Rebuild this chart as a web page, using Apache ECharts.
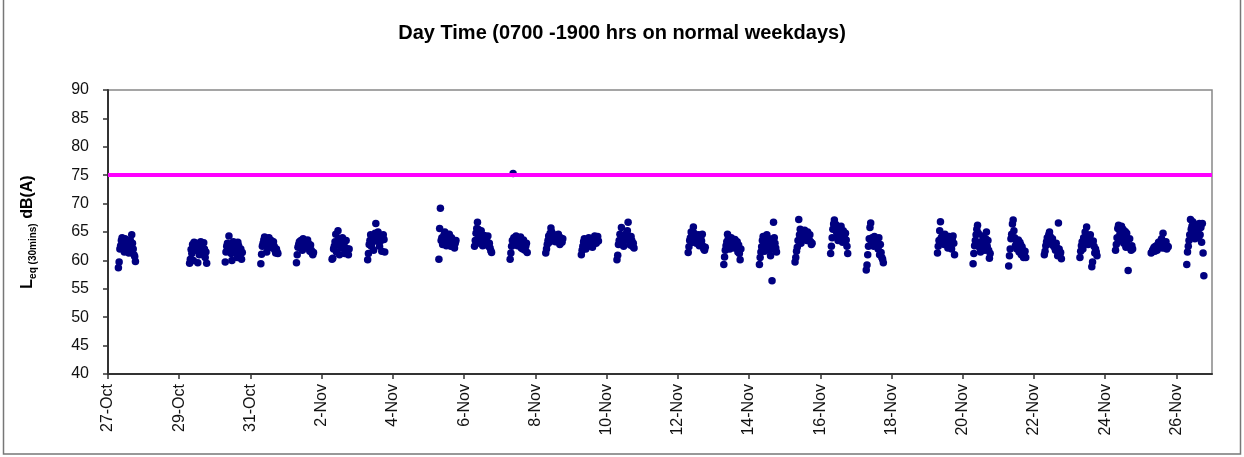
<!DOCTYPE html>
<html>
<head>
<meta charset="utf-8">
<script src="https://cdn.jsdelivr.net/npm/echarts@6/dist/echarts.min.js"></script>
<style>
html,body{margin:0;padding:0;background:#fff;}
#chart{width:1244px;height:457px;}
</style>
</head>
<body>
<div id="chart"></div>
<script>
// ---- data ----
const chartTitle = 'Day Time (0700 -1900 hrs on normal weekdays)';
const startDate = '2007-10-27';
const endDate = '2007-11-27';
const monthNames = ['Jan','Feb','Mar','Apr','May','Jun','Jul','Aug','Sep','Oct','Nov','Dec'];
const yTicks = {min: 40, max: 90, step: 5};
const limitLevel = 75;

// half-hour reading start times (0700 - 1900)
const slotTimes = ['07:00','07:30','08:00','08:30','09:00','09:30','10:00','10:30','11:00','11:30','12:00','12:30',
                   '13:00','13:30','14:00','14:30','15:00','15:30','16:00','16:30','17:00','17:30','18:00','18:30'];

// Leq (30 mins) dB(A) for each measured day
const oct27 = [58.7,59.7,62.0,62.6,63.5,64.0,63.2,62.4,61.5,63.8,62.8,62.2,63.4,62.6,61.3,63.0,63.6,62.5,64.5,63.0,62.0,61.0,60.7,59.8];
const oct29 = [59.5,60.2,61.9,61.2,62.8,60.0,63.2,62.5,61.8,63.0,62.2,59.6,62.4,61.0,61.5,63.3,62.8,62.0,61.0,63.1,62.0,60.5,61.5,59.5];
const oct30 = [59.7,61.5,62.5,63.0,61.8,64.3,62.8,62.0,61.2,60.0,62.5,63.3,62.0,61.6,61.5,62.2,60.5,63.2,62.6,61.8,61.0,62.0,60.2,61.4];
const oct31 = [59.4,61.1,62.5,63.0,63.6,64.1,63.8,62.6,61.5,63.2,63.9,64.0,62.4,63.0,63.5,62.8,62.2,63.3,62.5,61.8,61.3,62.0,61.5,61.2];
const nov01 = [59.6,61.0,62.3,62.8,63.3,62.6,63.5,62.0,61.8,63.8,63.2,62.5,63.0,62.4,62.9,63.6,63.0,62.2,61.6,62.7,61.8,61.3,61.0,61.4];
const nov02 = [60.2,60.4,62.0,62.5,63.3,64.6,61.5,62.8,65.2,63.8,61.0,62.5,63.0,62.2,64.0,63.3,62.7,61.2,62.2,63.5,61.5,62.0,61.0,62.0];
const nov03 = [60.1,61.2,62.8,63.5,64.5,62.5,63.2,64.0,61.8,63.5,64.8,66.5,63.4,64.3,65.0,63.8,62.5,64.2,63.5,61.6,64.0,64.5,63.7,61.5];
const nov05 = [60.2,65.6,69.2,63.5,64.0,62.8,63.3,64.5,65.0,63.2,62.6,63.8,63.1,64.2,64.6,63.0,62.5,64.0,63.5,62.8,63.3,62.2,63.0,63.5];
const nov06 = [62.5,63.5,64.8,65.6,66.7,65.5,64.2,63.0,64.6,65.2,63.8,62.6,63.4,64.4,64.0,63.5,62.8,63.3,64.3,62.5,63.0,62.2,61.7,61.4];
const nov07 = [60.2,61.3,62.5,63.5,75.3,64.0,62.8,63.2,64.3,63.8,62.6,63.5,62.9,63.3,64.1,62.2,63.0,62.0,63.6,62.8,61.8,62.5,63.0,61.4];
const nov08 = [61.3,62.0,62.8,63.5,64.3,63.2,64.8,65.7,65.0,64.2,63.6,64.5,64.1,63.3,63.8,64.0,63.3,64.6,63.5,62.8,64.0,63.6,63.2,63.8];
const nov09 = [61.0,61.8,62.5,63.3,63.8,62.6,62.0,63.5,62.8,63.2,64.0,63.0,62.5,63.4,63.6,62.3,63.1,63.8,64.3,63.5,63.0,63.8,64.2,63.4];
const nov10 = [60.1,60.9,62.8,63.5,64.6,63.2,65.8,63.0,64.0,62.5,63.8,64.5,63.6,64.8,65.2,66.7,64.0,63.3,62.7,64.2,63.5,62.5,63.0,62.2];
const nov12 = [61.4,62.4,63.5,64.0,65.0,64.3,63.2,65.9,64.8,63.6,64.2,63.0,63.7,64.4,64.5,62.6,63.8,64.1,63.4,64.6,62.5,62.0,61.8,62.3];
const nov13 = [59.3,60.6,61.8,62.6,63.3,64.6,63.8,62.9,62.0,63.0,64.0,63.5,62.6,63.1,62.2,63.7,62.8,62.5,63.3,61.5,62.7,61.2,60.1,62.0];
const nov14 = [59.3,60.5,61.5,62.4,63.5,64.2,62.8,61.6,63.5,62.9,64.5,63.3,62.0,63.8,61.8,60.8,62.5,56.4,63.6,66.7,64.0,63.0,62.2,61.5];
const nov15 = [59.7,60.5,61.6,62.3,63.5,67.2,64.5,65.5,63.0,64.7,63.8,65.2,64.0,65.3,64.2,64.8,63.5,65.0,64.0,63.6,64.5,63.3,62.8,63.0];
const nov16 = [61.2,62.5,64.0,65.5,66.4,67.1,65.8,66.3,65.0,64.5,63.5,65.6,64.9,65.4,66.0,64.2,63.2,65.2,64.6,63.8,64.8,63.6,62.5,61.2];
const nov17 = [58.3,59.2,61.0,62.5,63.8,65.8,66.6,63.2,64.0,63.5,62.5,64.2,63.3,62.7,63.0,63.8,62.0,64.0,61.0,62.8,61.4,60.5,60.2,59.6];
const nov19 = [61.3,62.5,63.5,65.2,66.8,64.0,63.2,64.5,63.8,62.8,64.6,63.3,63.9,62.9,62.2,63.6,64.2,62.6,63.0,62.0,63.8,64.3,63.0,61.0];
const nov20 = [59.4,61.2,62.6,63.5,64.5,65.5,66.2,64.8,63.0,62.2,61.5,63.3,62.9,64.3,64.0,62.6,61.8,63.8,65.0,62.5,63.5,61.8,60.4,61.2];
const nov21 = [59.0,60.8,62.0,63.8,64.6,66.4,67.1,65.2,64.0,62.6,63.5,62.0,62.9,63.6,61.5,63.2,62.8,61.0,62.4,61.8,60.5,61.2,61.6,60.5];
const nov22 = [61.0,61.6,62.6,63.3,64.0,63.0,64.5,65.0,64.2,63.5,62.8,63.8,63.1,62.4,62.5,61.8,63.0,62.2,60.8,66.6,62.0,61.0,61.4,60.3];
const nov23 = [60.5,61.6,62.6,63.3,62.0,64.0,63.5,65.0,64.2,65.9,63.8,62.8,63.6,64.1,64.5,63.0,58.9,59.7,63.4,62.5,61.3,62.0,61.5,60.8];
const nov24 = [61.8,62.8,64.0,65.6,66.2,65.8,64.8,63.5,66.0,64.2,65.5,63.0,64.4,65.1,62.3,64.8,63.6,58.2,62.5,63.8,62.2,61.8,62.6,62.0];
const nov25 = [61.3,61.5,61.8,62.0,62.3,61.6,62.5,62.0,61.8,62.8,63.2,62.5,62.9,63.4,63.8,62.2,64.8,63.0,62.6,62.2,63.3,62.0,62.5,62.4];
const nov26 = [59.3,61.5,62.5,63.5,64.5,67.2,65.5,66.0,66.8,64.8,65.5,63.8,65.0,66.3,66.0,65.2,64.0,66.5,64.5,65.8,63.2,66.5,61.3,57.3];

const measuredDays = [
  ['2007-10-27', oct27], ['2007-10-29', oct29], ['2007-10-30', oct30], ['2007-10-31', oct31],
  ['2007-11-01', nov01], ['2007-11-02', nov02], ['2007-11-03', nov03],
  ['2007-11-05', nov05], ['2007-11-06', nov06], ['2007-11-07', nov07], ['2007-11-08', nov08],
  ['2007-11-09', nov09], ['2007-11-10', nov10],
  ['2007-11-12', nov12], ['2007-11-13', nov13], ['2007-11-14', nov14], ['2007-11-15', nov15],
  ['2007-11-16', nov16], ['2007-11-17', nov17],
  ['2007-11-19', nov19], ['2007-11-20', nov20], ['2007-11-21', nov21], ['2007-11-22', nov22],
  ['2007-11-23', nov23], ['2007-11-24', nov24], ['2007-11-25', nov25], ['2007-11-26', nov26]
];

// ---- build ----
const DAY = 86400000;
const t0 = Date.parse(startDate + 'T00:00:00Z');
function dayOffset(s) { return (Date.parse(s + 'T00:00:00Z') - t0) / DAY; }
function slotFraction(t) { const p = t.split(':'); return (+p[0] + (+p[1]) / 60) / 24; }

const points = [];
measuredDays.forEach(function (d) {
  const base = dayOffset(d[0]);
  d[1].forEach(function (v, i) { points.push([base + slotFraction(slotTimes[i]), v]); });
});

const chart = echarts.init(document.getElementById('chart'), null, {renderer: 'canvas'});
const FONT = 'Arial, "Liberation Sans", sans-serif';

chart.setOption({
  animation: false,
  backgroundColor: '#fff',
  graphic: [{
    type: 'rect', silent: true, z: -10,
    shape: {x: 3.5, y: -3, width: 1237, height: 457},
    style: {fill: 'none', stroke: '#777', lineWidth: 1.5}
  }],
  title: {
    text: chartTitle, left: 'center', top: 18,
    textStyle: {fontFamily: FONT, fontSize: 20, fontWeight: 'bold', color: '#000'}
  },
  grid: {left: 108, top: 90, right: 32, bottom: 83, show: true, borderColor: '#888', borderWidth: 1.5, backgroundColor: '#fff'},
  xAxis: {
    type: 'value', min: 0, max: dayOffset(endDate), interval: 2,
    splitLine: {show: false},
    axisLine: {show: true, lineStyle: {color: '#333', width: 2}},
    axisTick: {show: true, length: 5, lineStyle: {color: '#333', width: 1.5}},
    axisLabel: {
      rotate: 90, margin: 10, fontFamily: FONT, fontSize: 16, color: '#111', showMaxLabel: false,
      formatter: function (v) {
        const d = new Date(t0 + v * DAY);
        return d.getUTCDate() + '-' + monthNames[d.getUTCMonth()];
      }
    }
  },
  yAxis: {
    type: 'value', min: yTicks.min, max: yTicks.max, interval: yTicks.step,
    splitLine: {show: false},
    axisLine: {show: true, lineStyle: {color: '#333', width: 2}},
    axisTick: {show: true, length: 5, lineStyle: {color: '#333', width: 1.5}},
    axisLabel: {margin: 19, fontFamily: FONT, fontSize: 16, color: '#111'},
    name: '{a|L}{b|eq (30mins)}{a| dB(A)}',
    nameLocation: 'middle', nameRotate: 90, nameGap: 72,
    nameTextStyle: {
      rich: {
        a: {fontFamily: FONT, fontSize: 16, fontWeight: 'bold', color: '#000', lineHeight: 18, verticalAlign: 'bottom'},
        b: {fontFamily: FONT, fontSize: 10, fontWeight: 'bold', color: '#000', lineHeight: 18, verticalAlign: 'bottom', padding: [0, 0, -2, 0]}
      }
    }
  },
  series: [
    {
      type: 'scatter', data: [], z: 1, silent: true,
      markLine: {
        silent: true, symbol: 'none', animation: false,
        label: {show: false},
        lineStyle: {color: '#ff00ff', width: 4, type: 'solid'},
        data: [{yAxis: limitLevel}]
      }
    },
    {
      type: 'scatter', data: points, z: 3,
      symbol: 'circle', symbolSize: 7.5,
      itemStyle: {color: '#000080', opacity: 1}
    }
  ]
});
</script>
</body>
</html>
